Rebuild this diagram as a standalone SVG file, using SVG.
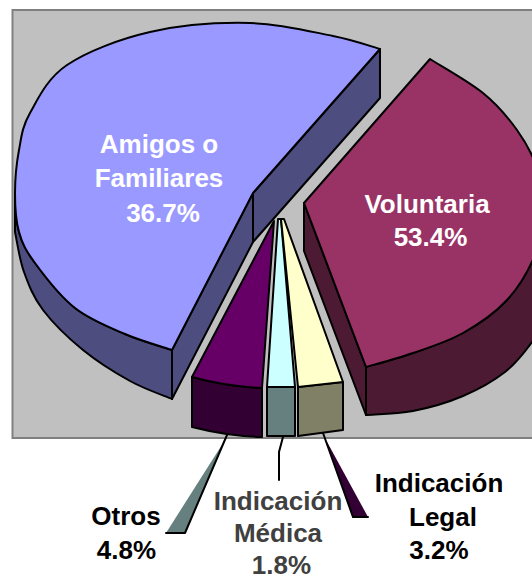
<svg xmlns="http://www.w3.org/2000/svg" width="532" height="580" viewBox="0 0 532 580">
<style>
.ol{stroke:#000;stroke-width:2;stroke-linejoin:round}
.lbl{font-family:"Liberation Sans",Arial,sans-serif;font-weight:bold;font-size:26px;text-anchor:middle}
.in{fill:#fff}
.out{fill:#000}
.gr{fill:#404040}
.ld{stroke:#000;stroke-width:2;fill:none;stroke-linecap:round}
</style>
<rect x="0" y="0" width="532" height="580" fill="#fff"/>
<rect id="plot-area" x="12.5" y="10" width="540" height="428" fill="#C0C0C0" stroke="#808080" stroke-width="2"/>

<g id="slice-amigos">
  <path class="ol" fill="#4D4D80" d="M15,193 C15,206.7 15.7,220.3 19,232 C22.3,243.7 25.7,250.3 35,263 C44.3,275.7 60,296.2 75,308 C90,319.8 108.8,327 125,334 C141.2,341 164.2,347.3 172,350 L172,399 C165,396 144.8,389.2 130,381 C115.2,372.8 97.5,361.8 83,350 C68.5,338.2 52.8,323 43,310 C33.2,297 28.7,285 24,272 C19.3,259 16.5,238.7 15,232 Z"/>
  <path class="ol" fill="#4D4D80" d="M380,49 L380,98 L253,242 L253,193 Z"/>
  <path class="ol" fill="#4D4D80" d="M253,193 L253,242 L172,399 L172,350 Z"/>
  <path class="ol" fill="#9999FF" d="M380,49 C372.2,46.8 354.7,40.3 333,36 C311.3,31.7 280.5,23.7 250,23 C219.5,22.3 180.5,25 150,32 C119.5,39 87,51.5 67,65 C47,78.5 38,98.8 30,113 C22,127.2 21.5,136.7 19,150 C16.5,163.3 15,179.3 15,193 C15,206.7 15.7,220.3 19,232 C22.3,243.7 25.7,250.3 35,263 C44.3,275.7 60,296.2 75,308 C90,319.8 108.8,327 125,334 C141.2,341 164.2,347.3 172,350 L253,193 Z"/>
  <text class="lbl in" x="159" y="153">Amigos o</text>
  <text class="lbl in" x="159" y="187">Familiares</text>
  <text class="lbl in" x="163" y="221.5">36.7%</text>
</g>

<g id="slice-voluntaria">
  <path class="ol" fill="#4D1A33" d="M304,203 L304,251 L366,415 L366,367 Z"/>
  <path class="ol" fill="#4D1A33" d="M535,255 C528.7,270 519,287 507,300 C495,313 478.7,324.2 463,333 C447.3,341.8 429.2,347.3 413,353 C396.8,358.7 373.8,364.7 366,367 L366,415 C373.8,414.3 396.8,414.2 413,411 C429.2,407.8 447.7,402.5 463,396 C478.3,389.5 493.5,381 505,372 C516.5,363 524.5,352.3 532,342 C539.5,331.7 547,315.3 550,310 L560,240 Z"/>
  <path class="ol" fill="#993366" d="M430,59 C438.8,64.7 468.5,81.2 483,93 C497.5,104.8 507.8,117.2 517,130 C526.2,142.8 533.3,156.7 538,170 C542.7,183.3 545.5,195.8 545,210 C544.5,224.2 541.3,240 535,255 C528.7,270 519,287 507,300 C495,313 478.7,324.2 463,333 C447.3,341.8 429.2,347.3 413,353 C396.8,358.7 373.8,364.7 366,367 L304,203 Z"/>
  <text class="lbl in" x="427" y="212.5">Voluntaria</text>
  <text class="lbl in" x="430.5" y="246">53.4%</text>
</g>

<g id="slice-otros">
  <path class="ol" fill="#330033" d="M192,377 Q227,386.5 262,388 L262,437 Q227,436 192,427 Z"/>
  <path class="ol" fill="#660066" d="M274,221 L192,377 Q227,386.5 262,388 Z"/>
</g>

<g id="slice-medica">
  <path class="ol" fill="#668080" d="M267,387 L295,387 L295,436 L267,436 Z"/>
  <path class="ol" fill="#CCFFFF" d="M278,219 L267,387 L295,387 L281,219 Z"/>
</g>

<g id="slice-legal">
  <path class="ol" fill="#808066" d="M298,387 L343,382 L343,430 L298,436 Z"/>
  <path class="ol" fill="#FFFFCC" d="M281,219 L298,387 L343,382 L284,219 Z"/>
</g>

<g id="connectors">
  <polygon points="225,440 185,533 166,533" fill="#668080"/>
  <path class="ld" d="M227,435 L185,533 M166,533 L185,533"/>
  <path class="ld" d="M283,437 L279,452 L279,480"/>
  <polygon points="326,440 368,517 353,517" fill="#330033"/>
  <path class="ld" d="M323,433 L353,517 L368,517"/>
</g>

<g id="label-otros">
  <text class="lbl out" x="126" y="525">Otros</text>
  <text class="lbl out" x="126.5" y="559">4.8%</text>
</g>
<g id="label-medica">
  <text class="lbl gr" x="278" y="510">Indicación</text>
  <text class="lbl gr" x="278" y="542">Médica</text>
  <text class="lbl gr" x="281.5" y="574">1.8%</text>
</g>
<g id="label-legal">
  <text class="lbl out" x="439" y="491.5">Indicación</text>
  <text class="lbl out" x="443" y="526">Legal</text>
  <text class="lbl out" x="439" y="559">3.2%</text>
</g>
</svg>
